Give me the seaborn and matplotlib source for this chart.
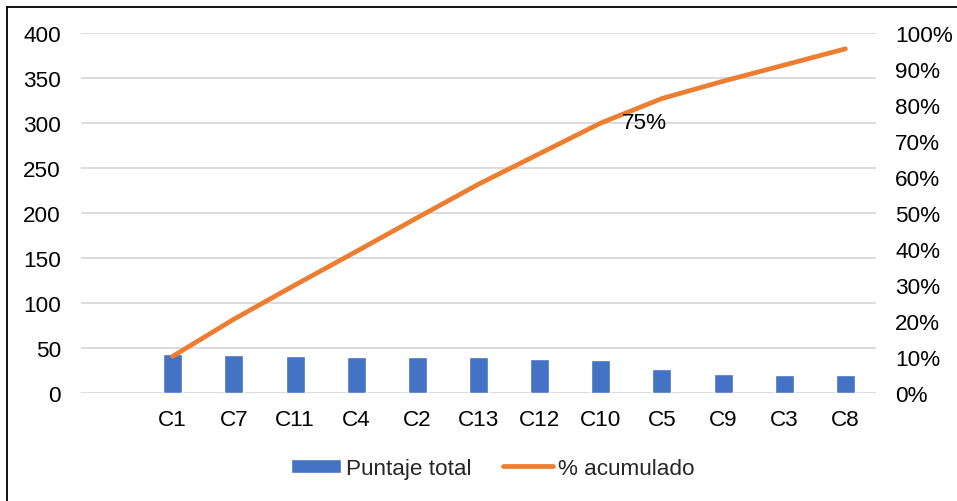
import numpy as np
import pandas as pd
import seaborn as sns
import matplotlib.pyplot as plt
from matplotlib.lines import Line2D
from matplotlib.ticker import MultipleLocator, PercentFormatter

# Pareto data: score per criterion and cumulative share
categorias = ["C1", "C7", "C11", "C4", "C2", "C13", "C12", "C10", "C5", "C9", "C3", "C8"]
puntaje_total = [43.3, 42.2, 41.5, 40.4, 39.7, 39.7, 37.4, 36.8, 26.4, 20.6, 20.2, 20.2]
pct_acumulado = [0.102, 0.205, 0.300, 0.393, 0.487, 0.580, 0.665, 0.75, 0.818, 0.866, 0.911, 0.956]
etiqueta_cat = "C10"

orden = [""] + categorias  # leading empty slot on the category axis

sns.set_theme(style="white")
plt.rcParams["font.family"] = ["Liberation Sans", "DejaVu Sans"]
FS = 16.2
AZUL = "#4472C4"
NARANJA = "#ED7D31"
GRIS = "#D9D9D9"

W, H = 957, 502
fig = plt.figure(figsize=(W / 100, H / 100), dpi=100)
ax = fig.add_axes([81 / W, (H - 394) / H, (876 - 81) / W, (394 - 34) / H])

df = pd.DataFrame({"Categoria": categorias, "Puntaje total": puntaje_total})
sns.barplot(data=df, x="Categoria", y="Puntaje total", order=orden,
            color=AZUL, saturation=1, width=0.31, ax=ax,
            label="Puntaje total")

ax.set_ylim(0, 400)
ax.set_xlim(-0.5, len(orden) - 0.5)
ax.yaxis.set_major_locator(MultipleLocator(50))
ax.grid(axis="y", color=GRIS, linewidth=1.3)
ax.set_axisbelow(True)
ax.set_xlabel("")
ax.set_ylabel("")
for s in ax.spines.values():
    s.set_visible(False)
ax.tick_params(axis="y", length=0, pad=14.4, labelsize=FS, labelcolor="black")
ax.tick_params(axis="x", length=0, pad=11.5, labelsize=FS, labelcolor="black")

# cumulative percentage on the secondary axis
ax2 = ax.twinx()
pos = [orden.index(c) for c in categorias]
dfl = pd.DataFrame({"x": pos, "pct": pct_acumulado})
sns.lineplot(data=dfl, x="x", y="pct", color=NARANJA, linewidth=3.4,
             ax=ax2, label="% acumulado", solid_capstyle="round")
ax2.set_ylim(0, 1)
ax2.yaxis.set_major_locator(MultipleLocator(0.1))
ax2.yaxis.set_major_formatter(PercentFormatter(1.0, decimals=0))
ax2.set_ylabel("")
ax2.set_xlabel("")
for s in ax2.spines.values():
    s.set_visible(False)
ax2.tick_params(axis="y", length=0, pad=13.7, labelsize=FS, labelcolor="black")
ax2.grid(False)

i = categorias.index(etiqueta_cat)
ax2.annotate(f"{pct_acumulado[i]:.0%}", xy=(pos[i], pct_acumulado[i]),
             xytext=(21, 0), textcoords="offset pixels",
             ha="left", va="center", fontsize=FS, color="black")

# legend below the plot
h1, l1 = ax.get_legend_handles_labels()
h2, l2 = ax2.get_legend_handles_labels()
if ax.get_legend():
    ax.get_legend().remove()
if ax2.get_legend():
    ax2.get_legend().remove()
fig.legend(h1 + h2, l1 + l2, loc="center", bbox_to_anchor=(493 / W, (H - 469.5) / H),
           ncol=2, frameon=False, fontsize=FS, handlelength=2.2, handleheight=0.6,
           handletextpad=0.25, columnspacing=1.4)

# chart-area frame
fig.add_artist(Line2D([7.5 / W, 7.5 / W], [0, (H - 7.5) / H], color="black", linewidth=1.3,
                      transform=fig.transFigure))
fig.add_artist(Line2D([7.5 / W, 1], [(H - 7.5) / H, (H - 7.5) / H], color="black",
                      linewidth=1.3, transform=fig.transFigure))

fig.savefig("out.png", dpi=100)
